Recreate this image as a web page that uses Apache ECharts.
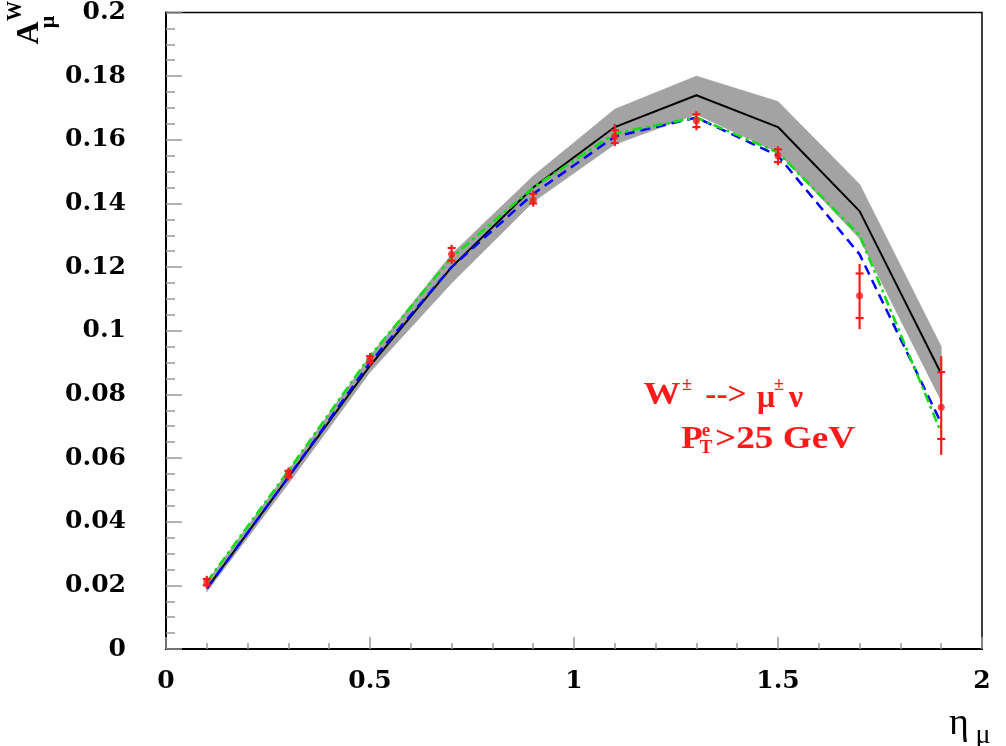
<!DOCTYPE html>
<html>
<head>
<meta charset="utf-8">
<script src="https://cdn.jsdelivr.net/npm/echarts@6/dist/echarts.min.js"></script>
<style>
  html, body { margin: 0; padding: 0; background: #fff; }
  #main { width: 1006px; height: 746px; }
</style>
</head>
<body>
<div id="main"></div>
<script>
// eta bins
var eta = [0.1, 0.3, 0.5, 0.7, 0.9, 1.1, 1.3, 1.5, 1.7, 1.9];
// theory curves
var central = [0.019, 0.054, 0.089, 0.120, 0.145, 0.164, 0.174, 0.164, 0.1376, 0.0865];
var bandLo = [0.018, 0.052, 0.087, 0.115, 0.1405, 0.1586, 0.168, 0.156, 0.129, 0.078];
var bandHi = [0.021, 0.056, 0.092, 0.124, 0.1486, 0.1696, 0.180, 0.172, 0.146, 0.095];
var blueDash = [0.019, 0.054, 0.090, 0.120, 0.143, 0.161, 0.167, 0.155, 0.124, 0.071];
var greenDot = [0.021, 0.056, 0.092, 0.123, 0.145, 0.162, 0.167, 0.156, 0.130, 0.068];
// data points with errors
var points = [0.021, 0.055, 0.091, 0.124, 0.141, 0.161, 0.166, 0.155, 0.111, 0.076];
var errLo = [0.019, 0.053, 0.089, 0.121, 0.139, 0.158, 0.163, 0.152, 0.1005, 0.061];
var errHi = [0.023, 0.057, 0.093, 0.127, 0.144, 0.165, 0.169, 0.158, 0.121, 0.092];
var capLo = [0.020, 0.054, 0.090, 0.122, 0.140, 0.159, 0.164, 0.153, 0.104, 0.066];
var capHi = [0.022, 0.056, 0.092, 0.126, 0.143, 0.163, 0.168, 0.157, 0.118, 0.087];

function pairs(ys) {
  return eta.map(function (x, i) { return [x, ys[i]]; });
}

var bandData = [];
for (var i = 0; i < eta.length - 1; i++) {
  bandData.push([eta[i], bandLo[i], bandHi[i], eta[i + 1], bandLo[i + 1], bandHi[i + 1]]);
}
var errData = eta.map(function (x, i) { return [x, errLo[i], errHi[i], capLo[i], capHi[i]]; });

var red = '#ff1a1a';
var serif = 'Liberation Serif';

function renderBand(params, api) {
  var pts = [
    api.coord([api.value(0), api.value(1)]),
    api.coord([api.value(3), api.value(4)]),
    api.coord([api.value(3), api.value(5)]),
    api.coord([api.value(0), api.value(2)])
  ];
  return {
    type: 'polygon',
    shape: { points: pts },
    style: { fill: '#a3a3a3', stroke: '#a3a3a3', lineWidth: 0.8 }
  };
}

function renderErr(params, api) {
  var x = api.value(0);
  var b = api.coord([x, api.value(1)]);
  var t = api.coord([x, api.value(2)]);
  var c1 = api.coord([x, api.value(3)]);
  var c2 = api.coord([x, api.value(4)]);
  var w = 4;
  var st = { stroke: red, lineWidth: 2.2 };
  return {
    type: 'group',
    children: [
      { type: 'line', shape: { x1: b[0], y1: b[1], x2: t[0], y2: t[1] }, style: st },
      { type: 'line', shape: { x1: c1[0] - w, y1: c1[1], x2: c1[0] + w, y2: c1[1] }, style: st },
      { type: 'line', shape: { x1: c2[0] - w, y1: c2[1], x2: c2[0] + w, y2: c2[1] }, style: st }
    ]
  };
}

function txt(x, y, s, size, opts) {
  opts = opts || {};
  return {
    type: 'text',
    x: x, y: y,
    rotation: opts.rotation || 0,
    scaleX: opts.scaleX || 1,
    style: {
      text: s,
      fill: opts.color || '#000',
      font: (opts.bold === false ? '' : 'bold ') + size + 'px "' + serif + '"',
      align: 'center',
      verticalAlign: 'middle'
    },
    z: 100
  };
}

var myChart = echarts.init(document.getElementById('main'));
var option = {
  backgroundColor: '#fff',
  animation: false,
  grid: {
    left: 166, right: 24, top: 11, bottom: 97,
    show: true, borderColor: '#000', borderWidth: 1.5, backgroundColor: 'transparent'
  },
  xAxis: {
    type: 'value', min: 0, max: 2, interval: 0.5,
    axisLine: { lineStyle: { color: '#000', width: 2 } },
    axisTick: { inside: true, length: 12, lineStyle: { color: '#999', width: 1.5 } },
    minorTick: { show: true, splitNumber: 5, length: 6, lineStyle: { color: '#999', width: 1.5 } },
    splitLine: { show: false },
    axisLabel: { margin: 20, color: '#000', fontFamily: 'DejaVu Serif', fontWeight: 'bold', fontSize: 25 }
  },
  yAxis: {
    type: 'value', min: 0, max: 0.2, interval: 0.02,
    axisLine: { lineStyle: { color: '#000', width: 2 } },
    axisTick: { inside: true, length: 16, lineStyle: { color: '#999', width: 1.5 } },
    minorTick: { show: true, splitNumber: 4, length: 9, lineStyle: { color: '#999', width: 1.5 } },
    splitLine: { show: false },
    axisLabel: { margin: 40, color: '#000', fontFamily: 'DejaVu Serif', fontWeight: 'bold', fontSize: 25 }
  },
  series: [
    {
      type: 'custom', renderItem: renderBand, data: bandData,
      encode: { x: [0, 3], y: [1, 2, 4, 5] }, z: 1, silent: true
    },
    {
      type: 'line', data: pairs(central), symbol: 'none', z: 2,
      lineStyle: { color: '#000', width: 2 }
    },
    {
      type: 'line', data: pairs(blueDash), symbol: 'none', z: 3,
      lineStyle: { color: '#0000ff', width: 2.5, type: [10, 6] }
    },
    {
      type: 'line', data: pairs(greenDot), symbol: 'none', z: 4,
      lineStyle: { color: '#11dd11', width: 2.6, type: [10, 4, 3, 4] }
    },
    {
      type: 'custom', renderItem: renderErr, data: errData,
      encode: { x: 0, y: [1, 2] }, z: 5, silent: true
    },
    {
      type: 'scatter', data: pairs(points), symbol: 'circle', symbolSize: 7, z: 6,
      itemStyle: { color: red }
    }
  ],
  graphic: [
    // y-axis title A^W_mu (rotated)
    txt(30, 33, 'A', 32, { rotation: Math.PI / 2 }),
    txt(16, 11, 'W', 20, { rotation: Math.PI / 2 }),
    txt(48, 22, 'μ', 22, { rotation: Math.PI / 2 }),
    // x-axis title eta_mu
    txt(959, 724, 'η', 38, { bold: false }),
    txt(983, 736, 'μ', 28, { bold: false }),
    // process label
    txt(662, 396, 'W', 32, { color: red, scaleX: 1.15 }),
    txt(687, 385, '±', 18, { color: red }),
    txt(726, 396, '-->', 32, { color: red, scaleX: 1.05 }),
    txt(766, 399, 'μ', 32, { color: red }),
    txt(779, 385, '±', 18, { color: red }),
    txt(796, 399, 'ν', 32, { color: red }),
    txt(692, 440, 'P', 32, { color: red, scaleX: 1.1 }),
    txt(706, 431, 'e', 19, { color: red }),
    txt(706, 448, 'T', 19, { color: red }),
    txt(785, 440, '>25 GeV', 31, { color: red, scaleX: 1.2 })
  ]
};
myChart.setOption(option);
</script>
</body>
</html>
